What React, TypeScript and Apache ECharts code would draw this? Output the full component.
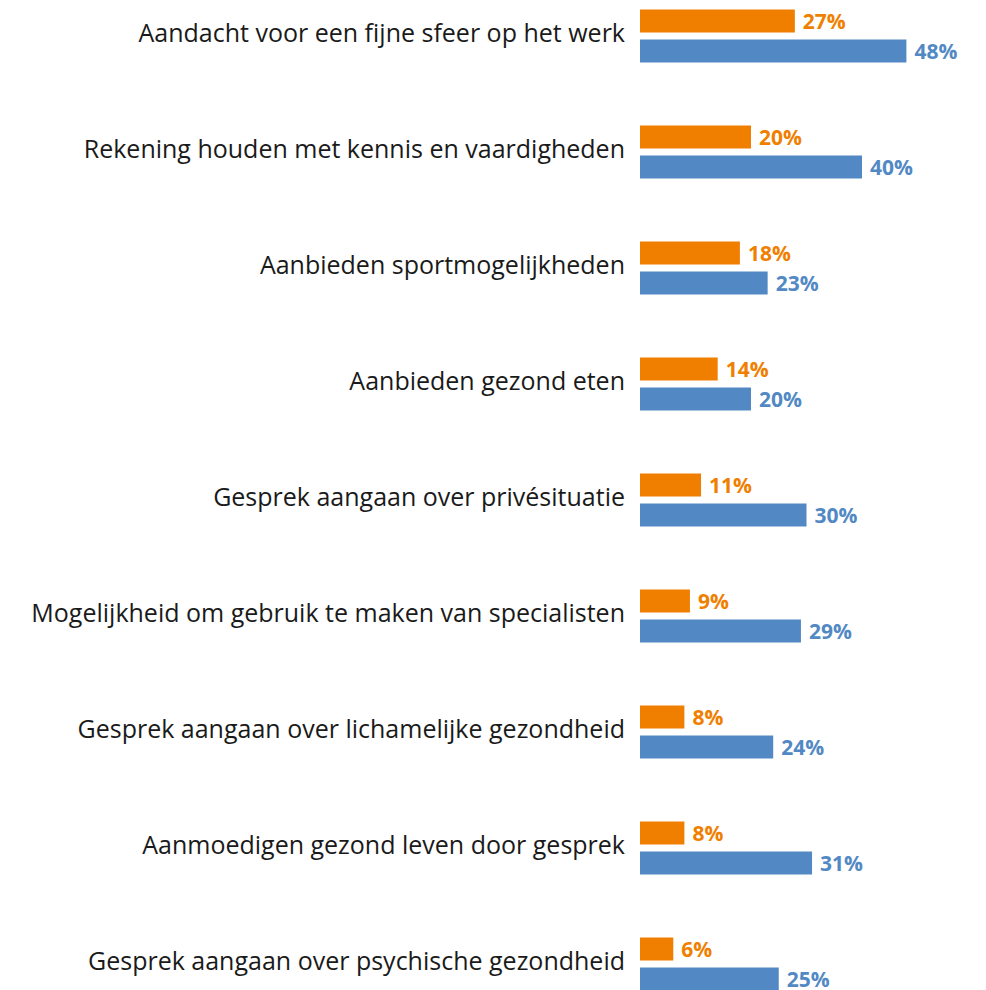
import React, { useEffect, useRef } from "react";
import * as echarts from "echarts";

const categories = [
  "Aandacht voor een fijne sfeer op het werk",
  "Rekening houden met kennis en vaardigheden",
  "Aanbieden sportmogelijkheden",
  "Aanbieden gezond eten",
  "Gesprek aangaan over privésituatie",
  "Mogelijkheid om gebruik te maken van specialisten",
  "Gesprek aangaan over lichamelijke gezondheid",
  "Aanmoedigen gezond leven door gesprek",
  "Gesprek aangaan over psychische gezondheid",
];
const orangeValues = [27.9, 20, 18, 14, 11, 9, 8, 8, 6];
const blueValues = [48, 40, 23, 20, 30, 29, 24, 31, 25];

const ORANGE = "#F07F00";
const BLUE = "#5289C4";

export default function App() {
  const ref = useRef<HTMLDivElement>(null);
  useEffect(() => {
    if (!ref.current) return;
    const chart = echarts.init(ref.current, null, { renderer: "svg" });
    const labelFmt = (p: any) => Math.floor(p.value) + "%";
    chart.setOption({
      animation: false,
      grid: { left: 640, top: 0, width: 277.5, height: 1044, containLabel: false },
      xAxis: {
        type: "value",
        min: 0,
        max: 50,
        show: false,
      },
      yAxis: {
        type: "category",
        inverse: true,
        data: categories,
        axisLine: { show: false },
        axisTick: { show: false },
        axisLabel: {
          margin: 15,
          formatter: (v: string) => "{a|" + v + "}",
          rich: {
            a: {
              fontSize: 25,
              color: "#1a1a1a",
              fontFamily: "Open Sans",
              padding: [0, 0, 9, 0],
            },
          },
        },
      },
      series: [
        {
          type: "bar",
          data: orangeValues,
          barWidth: 23,
          barGap: "30%",
          itemStyle: { color: ORANGE },
          label: {
            show: true,
            position: "right",
            distance: 8,
            formatter: labelFmt,
            color: ORANGE,
            fontWeight: "bold",
            fontSize: 21,
            fontFamily: "Open Sans",
          },
        },
        {
          type: "bar",
          data: blueValues,
          barWidth: 23,
          barGap: "30%",
          itemStyle: { color: BLUE },
          label: {
            show: true,
            position: "right",
            distance: 8,
            formatter: labelFmt,
            color: BLUE,
            fontWeight: "bold",
            fontSize: 21,
            fontFamily: "Open Sans",
          },
        },
      ],
    });
    return () => chart.dispose();
  }, []);
  return (
    <div
      ref={ref}
      style={{ position: "fixed", left: 0, top: -22.5, width: 986, height: 1044, background: "#fff" }}
    />
  );
}
